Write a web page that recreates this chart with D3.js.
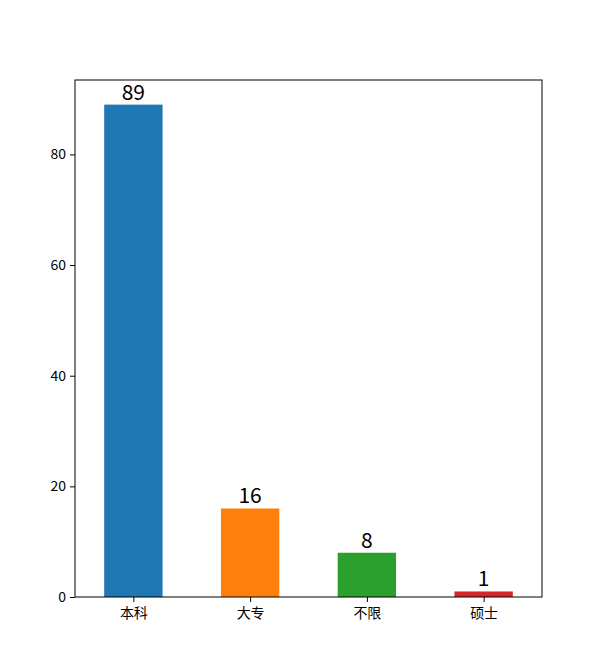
<!DOCTYPE html>
<html><head><meta charset="utf-8">
<script src="https://cdn.jsdelivr.net/npm/d3@7"></script>
<style>body{margin:0;background:#fff}svg{display:block}text{font-family:"Noto Sans CJK SC","Noto Sans",sans-serif}</style>
</head><body>
<svg id="c" width="602" height="670"></svg>
<script>
const categories = ["本科","大专","不限","硕士"];
const values = [89,16,8,1];
const colors = ["#1f77b4","#ff7f0e","#2ca02c","#d62728"];
const yTicks = [0,20,40,60,80];

const svg = d3.select("#c");
const L=75,R=542,T=80,B=597;
const x = d3.scaleLinear().domain([-0.5,3.5]).range([L,R]);
const y = d3.scaleLinear().domain([0,89*1.05]).range([B,T]);
const bw = x(0.25)-x(-0.25);

svg.selectAll("rect.bar").data(values).enter().append("rect")
  .attr("x",(d,i)=>x(i)-bw/2).attr("width",bw)
  .attr("y",d=>y(d)).attr("height",d=>B-y(d))
  .attr("fill",(d,i)=>colors[i]);

svg.selectAll("text.val").data(values).enter().append("text")
  .attr("x",(d,i)=>x(i)).attr("y",d=>y(d)-5)
  .attr("text-anchor","middle").attr("font-size",21).attr("fill","#000")
  .text(d=>d);

const xa = svg.append("g").attr("transform",`translate(0,${B})`)
  .call(d3.axisBottom(x).tickValues([0,1,2,3]).tickFormat(i=>categories[i]).tickSize(5).tickPadding(6));
const ya = svg.append("g").attr("transform",`translate(${L},0)`)
  .call(d3.axisLeft(y).tickValues(yTicks).tickSize(5).tickPadding(4));
[xa,ya].forEach(g=>{g.select(".domain").remove();g.selectAll("text").attr("font-size",14).attr("fill","#000").attr("font-family",'"Noto Sans CJK SC",sans-serif');g.selectAll("line").attr("stroke","#000");});

svg.append("rect").attr("x",L).attr("y",T).attr("width",R-L).attr("height",B-T)
  .attr("fill","none").attr("stroke","#000").attr("stroke-width",1);
</script>
</body></html>
